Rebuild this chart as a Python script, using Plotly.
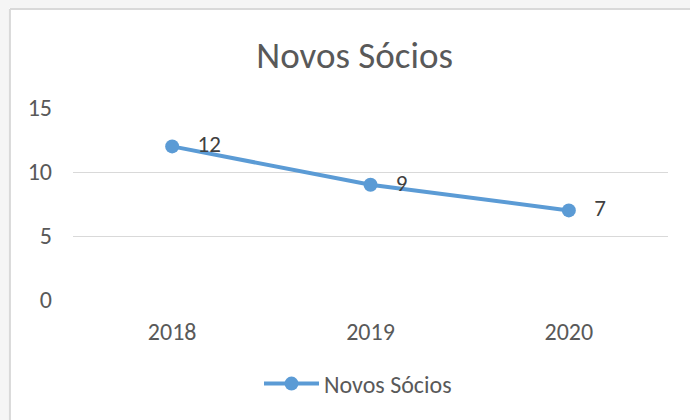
import plotly.graph_objects as go

years = ["2018", "2019", "2020"]
novos_socios = [12, 9, 7]
y_ticks = [0, 5, 10, 15]


def build_novos_socios_chart(years: list[str], values: list[int]) -> go.Figure:
    """Build a line chart with markers and data labels for new members per year."""
    fig = go.Figure()
    fig.add_trace(
        go.Scatter(
            x=years,
            y=values,
            mode="lines+markers+text",
            name="Novos Sócios",
            text=[str(v) for v in values],
            texttemplate="\u00a0\u00a0\u00a0%{text}",  # pad label away from the marker
            textposition="middle right",
            textfont=dict(size=23, color="#404040"),
            line=dict(color="#5b9bd5", width=4),
            marker=dict(color="#5b9bd5", size=14)
        )
    )
    fig.update_layout(
        width=690,
        height=420,
        margin=dict(l=73, r=22, t=108, b=120, autoexpand=False),
        font=dict(family="Calibri, Carlito, Lato, sans-serif", color="#595959"),
        title=dict(text="Novos Sócios", x=0.514, xanchor="center", y=0.869, yanchor="middle",
                   font=dict(size=37, color="#595959")),
        paper_bgcolor="white",
        plot_bgcolor="white",
        showlegend=True,
        legend=dict(orientation="h", x=0.479, xanchor="center", y=-0.4375, yanchor="middle",
                    font=dict(size=24, color="#595959"), bgcolor="rgba(0,0,0,0)",
                    itemwidth=55),
        shapes=[
            # sheet background strips outside the chart area
            dict(type="rect", xref="paper", yref="paper", x0=-0.2, x1=-0.107,
                 y0=-1.0, y1=1.7, layer="below", fillcolor="#f5f5f5", line_width=0),
            dict(type="rect", xref="paper", yref="paper", x0=-0.2, x1=1.3,
                 y0=1.52, y1=1.7, layer="below", fillcolor="#f5f5f5", line_width=0),
            # chart area border (left and top)
            dict(type="line", xref="paper", yref="paper", x0=-0.106, x1=-0.106,
                 y0=-1.0, y1=1.516, layer="below", line=dict(color="#d9d9d9", width=2)),
            dict(type="line", xref="paper", yref="paper", x0=-0.106, x1=1.3,
                 y0=1.516, y1=1.516, layer="below", line=dict(color="#d9d9d9", width=2)),
        ]
    )
    fig.update_xaxes(range=[-0.5, 2.5], showgrid=False, zeroline=False, showline=False,
                     automargin=False, tickfont=dict(size=24, color="#595959"),
                     ticklabelstandoff=15)
    fig.update_yaxes(range=[0, 15], tickvals=y_ticks, showgrid=True, gridcolor="#d9d9d9",
                     gridwidth=1, zeroline=False, showline=False, automargin=False,
                     tickfont=dict(size=24, color="#595959"), ticklabelstandoff=20)
    return fig


fig = build_novos_socios_chart(years, novos_socios)
fig.write_html("out.html", config={"displayModeBar": False},
               post_script="document.body.style.margin = '0';")
